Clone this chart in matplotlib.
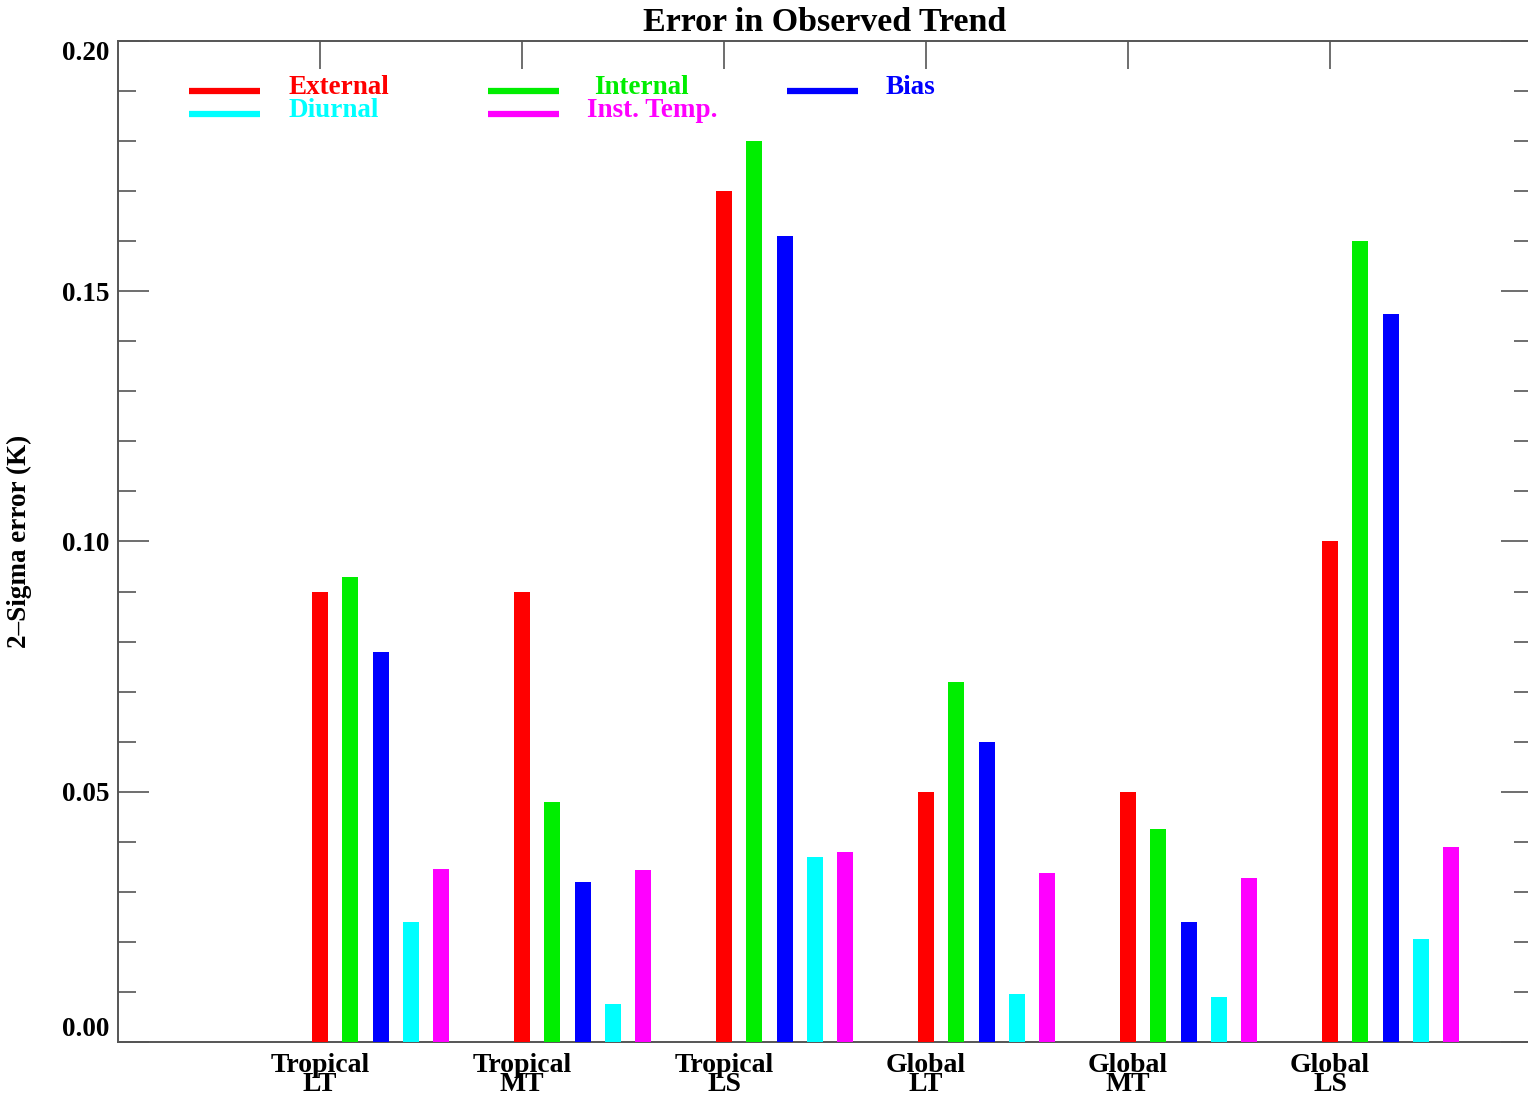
#!/usr/bin/env python3
"""Error in Observed Trend — 2-sigma error bars per region/layer."""
import numpy as np
import matplotlib
matplotlib.use("Agg")
import matplotlib.pyplot as plt
from matplotlib.ticker import MultipleLocator, FormatStrFormatter

categories = ["Tropical\nLT", "Tropical\nMT", "Tropical\nLS",
              "Global\nLT", "Global\nMT", "Global\nLS"]
external = [0.090, 0.090, 0.170, 0.050, 0.050, 0.100]
internal = [0.093, 0.048, 0.180, 0.072, 0.0425, 0.160]
bias = [0.078, 0.032, 0.161, 0.060, 0.024, 0.1455]
diurnal = [0.024, 0.0075, 0.037, 0.0095, 0.009, 0.0205]
inst_temp = [0.0345, 0.0343, 0.038, 0.0337, 0.0328, 0.039]

series = [("External", external, "#ff0000"),
          ("Internal", internal, "#00ee00"),
          ("Bias", bias, "#0000ff"),
          ("Diurnal", diurnal, "#00ffff"),
          ("Inst. Temp.", inst_temp, "#ff00ff")]

plt.rcParams["font.family"] = ["Liberation Serif", "DejaVu Serif"]
plt.rcParams["font.weight"] = "bold"

fig = plt.figure(figsize=(15.28, 10.97), dpi=100)
ax = fig.add_axes([118 / 1528, 55 / 1097, 1414 / 1528, 1001 / 1097])

x = np.arange(1, len(categories) + 1)
for i, (name, vals, col) in enumerate(series):
    ax.bar(x + 0.15 * i, vals, width=0.079, color=col, zorder=3)

ax.set_xlim(0, 7)
ax.set_ylim(0, 0.20)
ax.yaxis.set_major_locator(MultipleLocator(0.05))
ax.yaxis.set_minor_locator(MultipleLocator(0.01))
ax.yaxis.set_major_formatter(FormatStrFormatter("%.2f"))
ax.set_xticks(x)
ax.set_xticklabels(categories, fontsize=20, fontweight="bold", linespacing=0.7)
ax.tick_params(axis="x", which="major", direction="in", length=20, width=1.2,
               top=True, bottom=True, colors="#555555", labelcolor="black", pad=8)
ax.tick_params(axis="y", which="major", direction="in", length=22, width=1.2,
               left=True, right=True, colors="#555555", labelcolor="black",
               labelsize=19.5, pad=6)
ax.tick_params(axis="y", which="minor", direction="in", length=13, width=1.2,
               left=True, right=True, colors="#555555")
fig.canvas.draw()
for tk in ax.yaxis.get_major_ticks():
    lab = tk.label1
    lab.set_fontweight("bold")
    if lab.get_text() == "0.00":
        lab.set_va("bottom")
    elif lab.get_text() == "0.20":
        lab.set_va("top")
for sp in ax.spines.values():
    sp.set_color("#555555")
    sp.set_linewidth(1.4)

ax.set_ylabel("2\u2013Sigma error (K)", fontsize=19.5, fontweight="bold", labelpad=22)
ax.set_title("Error in Observed Trend", fontsize=24.5, fontweight="bold", pad=7)

# legend drawn by hand, IDL style
leg = [("External", "#ff0000", 0.351, 0.190, 0.842),
       ("Diurnal", "#00ffff", 0.351, 0.1854, 0.842),
       ("Internal", "#00ee00", 1.832, 0.190, 2.356),
       ("Inst. Temp.", "#ff00ff", 1.832, 0.1854, 2.322),
       ("Bias", "#0000ff", 3.312, 0.190, 3.802)]
for name, col, x0, yy, tx in leg:
    ax.plot([x0, x0 + 0.35], [yy, yy], color=col, lw=4.5, solid_capstyle="butt",
            zorder=4)
    ax.text(tx, yy + 0.0008, name, color=col, fontsize=19.5, fontweight="bold",
            ha="left", va="center", zorder=4)

fig.savefig("out.png", dpi=100)
plt.close(fig)
